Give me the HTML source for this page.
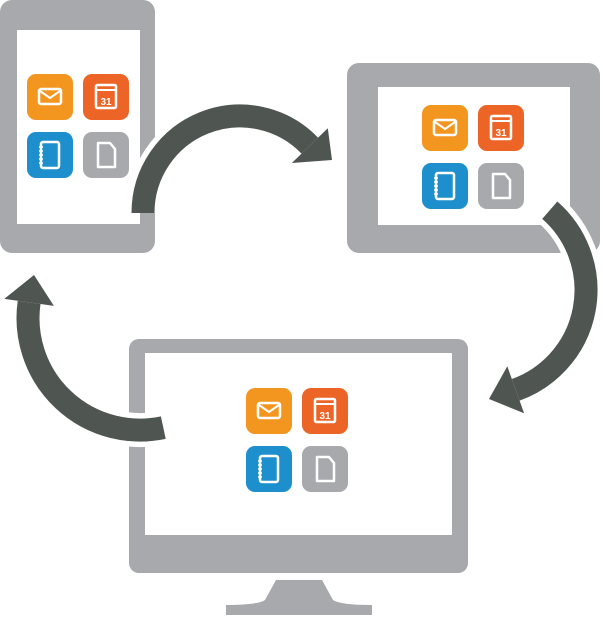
<!DOCTYPE html>
<html><head><meta charset="utf-8"><style>html,body{margin:0;padding:0;background:#fff}svg{display:block}</style></head>
<body>
<svg width="603" height="618" viewBox="0 0 603 618" xmlns="http://www.w3.org/2000/svg">
<defs>
<g id="ic">
 <rect x="0" y="0" width="46" height="46" rx="9" fill="#f3961f"/>
 <rect x="12" y="15" width="22" height="15" rx="2" fill="none" stroke="#fff" stroke-width="2.5"/>
 <path d="M13 17 L23 24 L33 17" fill="none" stroke="#fff" stroke-width="2"/>
 <g transform="translate(56,0)">
  <rect x="0" y="0" width="46" height="46" rx="9" fill="#ec6426"/>
  <rect x="13" y="11" width="20" height="23" rx="1.5" fill="none" stroke="#fff" stroke-width="2.5"/>
  <line x1="13" y1="16" x2="33" y2="16" stroke="#fff" stroke-width="2"/>
  <text x="23" y="31" font-family="Liberation Sans, sans-serif" font-weight="bold" font-size="10" fill="#fff" text-anchor="middle">31</text>
 </g>
 <g transform="translate(0,58)">
  <rect x="0" y="0" width="46" height="46" rx="9" fill="#1d8fcc"/>
  <rect x="14" y="10" width="18" height="26" rx="2" fill="none" stroke="#fff" stroke-width="2.5"/>
  <path d="M12 15h4M12 19h4M12 23h4M12 27h4M12 31h4" stroke="#fff" stroke-width="1.5"/>
 </g>
 <g transform="translate(56,58)">
  <rect x="0" y="0" width="46" height="46" rx="9" fill="#a7a9ac"/>
  <path d="M15 11 H27 L32 17 V35 H15 Z" fill="none" stroke="#fff" stroke-width="2.5" stroke-linejoin="round"/>
 </g>
</g>
</defs>
<rect x="0" y="0" width="155" height="253" rx="12" fill="#a7a9ac"/>
<rect x="17" y="30" width="123" height="194" fill="#fff"/>
<use href="#ic" transform="translate(27,74)"/>
<rect x="347" y="63" width="253" height="190" rx="12" fill="#a7a9ac"/>
<rect x="378" y="87" width="192" height="138" fill="#fff"/>
<use href="#ic" transform="translate(422,105)"/>
<rect x="129" y="339" width="339" height="234" rx="10" fill="#a7a9ac"/>
<rect x="145" y="353" width="307" height="182" fill="#fff"/>
<path d="M276 580 H322 L333 600 Q340 605 372 605 V615 H226 V605 Q258 605 265 600 Z" fill="#a7a9ac"/>
<use href="#ic" transform="translate(246,388)"/>
<g fill="none" stroke="#fff" stroke-width="34">
 <path d="M143 213 A97 97 0 0 1 309.8 145.6"/>
 <path d="M549.8 210.2 A106 106 0 0 1 515.7 389.8"/>
 <path d="M163.3 427.6 A112 112 0 0 1 29.1 302.4"/>
</g>
<g fill="#fff" stroke="#fff" stroke-width="8" stroke-linejoin="round">
 <polygon points="327.8,128.2 291.8,163 332,160"/>
 <polygon points="524.1,413.3 507.3,366.3 489,399"/>
 <polygon points="4.3,298.9 53.9,305.9 34,275"/>
</g>
<g fill="none" stroke="#4f5551" stroke-width="23">
 <path d="M143 213 A97 97 0 0 1 309.8 145.6"/>
 <path d="M549.8 210.2 A106 106 0 0 1 515.7 389.8"/>
 <path d="M163.3 427.6 A112 112 0 0 1 29.1 302.4"/>
</g>
<g fill="#4f5551">
 <polygon points="327.8,128.2 291.8,163 332,160"/>
 <polygon points="524.1,413.3 507.3,366.3 489,399"/>
 <polygon points="4.3,298.9 53.9,305.9 34,275"/>
</g>
</svg>
</body></html>
